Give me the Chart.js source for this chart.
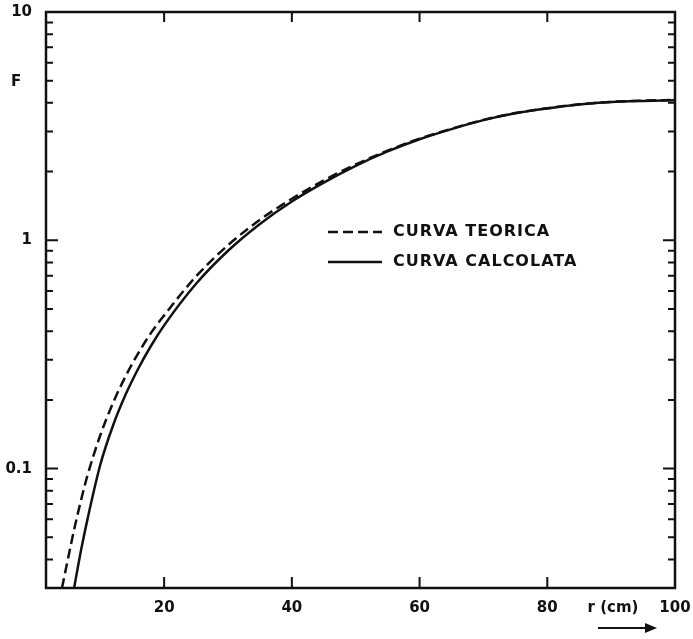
<!DOCTYPE html>
<html>
<head>
<meta charset="utf-8">
<script src="https://cdn.jsdelivr.net/npm/chart.js@4/dist/chart.umd.min.js"></script>
<style>
  html, body { margin: 0; padding: 0; background: #fff; }
  #wrap { width: 693px; height: 639px; position: relative; }
</style>
</head>
<body>
<div id="wrap"><canvas id="c" width="693" height="639"></canvas></div>
<script>
// ---- data ----
const xTeorica   = [4, 5, 6, 7, 8, 10, 12, 14, 16, 18, 20, 25, 30, 35, 40, 45, 50, 55, 60, 65, 70, 75, 80, 85, 90, 95, 100];
const fTeorica   = [0.030, 0.041, 0.0556, 0.073, 0.0935, 0.140, 0.194, 0.255, 0.322, 0.395, 0.469, 0.695, 0.952, 1.23, 1.52, 1.83, 2.15, 2.47, 2.79, 3.08, 3.37, 3.61, 3.79, 3.94, 4.04, 4.09, 4.12];
const xCalcolata = [5.9, 7, 8, 10, 12, 14, 16, 18, 20, 25, 30, 35, 40, 45, 50, 55, 60, 65, 70, 75, 80, 85, 90, 95, 100];
const fCalcolata = [0.030, 0.0441, 0.0601, 0.104, 0.1545, 0.212, 0.276, 0.347, 0.424, 0.645, 0.90, 1.18, 1.48, 1.79, 2.12, 2.45, 2.77, 3.07, 3.36, 3.60, 3.78, 3.93, 4.03, 4.08, 4.11];
const xTicks = [20, 40, 60, 80, 100];
const yTicks = [0.03, 0.04, 0.05, 0.06, 0.07, 0.08, 0.09, 0.1, 0.2, 0.3, 0.4, 0.5, 0.6, 0.7, 0.8, 0.9, 1, 2, 3, 4, 5, 6, 7, 8, 9, 10];
const yLabels = { "0.1": "0.1", "1": "1", "10": "10" };
const seriesNames = ["CURVA TEORICA", "CURVA CALCOLATA"];

const FONT = "DejaVu Sans";
const INK = "#111";

function pts(xs, ys) { return xs.map((x, i) => ({ x: x, y: ys[i] })); }

const decorPlugin = {
  id: "decor",
  afterDraw(chart) {
    const ctx = chart.ctx;
    const a = chart.chartArea;
    const xs = chart.scales.x, ys = chart.scales.y;
    ctx.save();
    ctx.strokeStyle = INK;
    ctx.lineCap = "butt";
    // frame
    ctx.lineWidth = 2.5;
    ctx.strokeRect(a.left, a.top, a.right - a.left, a.bottom - a.top);
    // inward y ticks (both sides)
    ctx.lineWidth = 2;
    ys.ticks.forEach(t => {
      const p = ys.getPixelForValue(t.value);
      const lg = Math.log10(t.value);
      const major = Math.abs(lg - Math.round(lg)) < 1e-6;
      const len = major ? 12 : 7;
      ctx.beginPath();
      ctx.moveTo(a.left, p); ctx.lineTo(a.left + len, p);
      ctx.moveTo(a.right, p); ctx.lineTo(a.right - len, p);
      ctx.stroke();
    });
    // inward x ticks (top and bottom)
    xs.ticks.forEach(t => {
      if (t.value >= 100) return;
      const p = xs.getPixelForValue(t.value);
      ctx.beginPath();
      ctx.moveTo(p, a.bottom); ctx.lineTo(p, a.bottom - 11);
      ctx.moveTo(p, a.top); ctx.lineTo(p, a.top + 10);
      ctx.stroke();
    });
    // axis names
    ctx.fillStyle = INK;
    ctx.font = "bold 15px '" + FONT + "'";
    ctx.textBaseline = "middle";
    ctx.textAlign = "left";
    ctx.fillText("F", 11, 82);
    ctx.textAlign = "center";
    ctx.fillText("r (cm)", 613, a.bottom + 20);
    // arrow
    ctx.lineWidth = 2;
    ctx.beginPath();
    ctx.moveTo(598, a.bottom + 40); ctx.lineTo(648, a.bottom + 40);
    ctx.stroke();
    ctx.beginPath();
    ctx.moveTo(657, a.bottom + 40);
    ctx.lineTo(645, a.bottom + 35);
    ctx.lineTo(645, a.bottom + 45);
    ctx.closePath();
    ctx.fill();
    // legend
    const rows = [232, 262];
    chart.data.datasets.forEach((ds, i) => {
      const y = rows[i];
      ctx.lineWidth = 2.5;
      ctx.setLineDash(ds.borderDash || []);
      ctx.beginPath();
      ctx.moveTo(328, y); ctx.lineTo(382, y);
      ctx.stroke();
      ctx.setLineDash([]);
      ctx.font = "bold 16px '" + FONT + "'";
      ctx.textAlign = "left";
      ctx.textBaseline = "middle";
      try { ctx.letterSpacing = "1px"; } catch (e) {}
      ctx.fillText(ds.label, 393, y);
      try { ctx.letterSpacing = "0px"; } catch (e) {}
    });
    ctx.restore();
  }
};

new Chart(document.getElementById("c"), {
  type: "line",
  data: {
    datasets: [
      { label: seriesNames[0], data: pts(xTeorica, fTeorica), borderColor: INK, borderWidth: 2.5,
        borderDash: [10, 5], pointRadius: 0, cubicInterpolationMode: "monotone", fill: false },
      { label: seriesNames[1], data: pts(xCalcolata, fCalcolata), borderColor: INK, borderWidth: 2.5,
        pointRadius: 0, cubicInterpolationMode: "monotone", fill: false }
    ]
  },
  options: {
    responsive: false,
    animation: false,
    devicePixelRatio: 1,
    layout: { padding: { top: 12, right: 18, left: 0, bottom: 0 } },
    plugins: { legend: { display: false }, tooltip: { enabled: false } },
    scales: {
      x: {
        type: "linear", min: 1.5, max: 100,
        afterBuildTicks: s => { s.ticks = xTicks.map(v => ({ value: v })); },
        afterFit: s => { s.height = 51; s.paddingLeft = 0; s.paddingRight = 0; },
        grid: { display: false, drawTicks: false },
        border: { display: false },
        ticks: { color: INK, padding: 11, autoSkip: false, maxRotation: 0,
                 font: { family: FONT, size: 15, weight: "bold" },
                 callback: v => String(v) }
      },
      y: {
        type: "logarithmic", min: 0.03, max: 10,
        afterBuildTicks: s => { s.ticks = yTicks.map(v => ({ value: v })); },
        afterFit: s => { s.width = 46; s.paddingTop = 0; s.paddingBottom = 0; },
        grid: { display: false, drawTicks: false },
        border: { display: false },
        ticks: { color: INK, padding: 14, autoSkip: false,
                 font: { family: FONT, size: 15, weight: "bold" },
                 callback: v => yLabels[String(v)] || "" }
      }
    }
  },
  plugins: [decorPlugin]
});
</script>
</body>
</html>
